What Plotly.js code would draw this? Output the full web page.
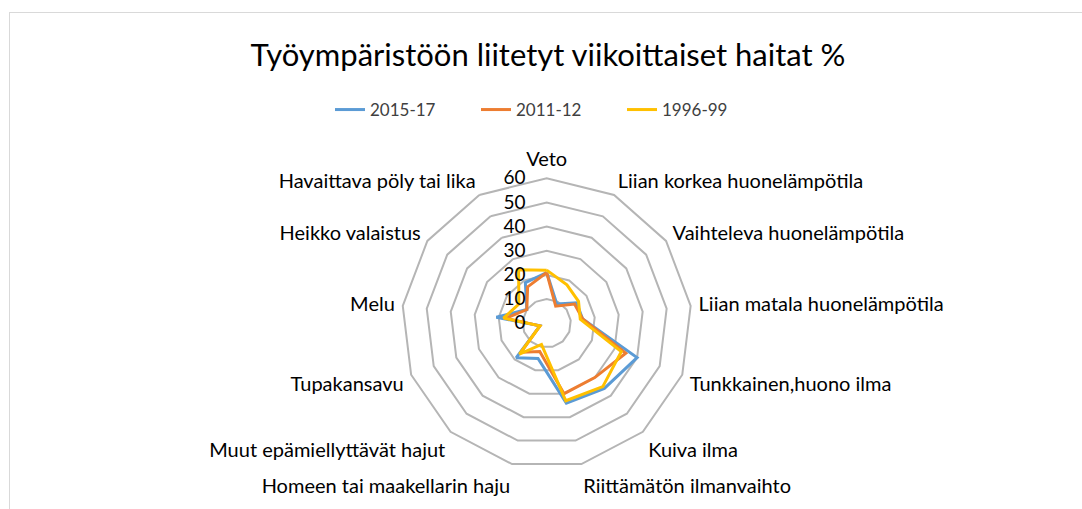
<!DOCTYPE html>
<html>
<head>
<meta charset="utf-8">
<script src="https://cdn.plot.ly/plotly-3.0.1.min.js"></script>
<style>
  html, body { margin: 0; padding: 0; background: #ffffff; overflow: hidden; }
  #chart { width: 1082px; height: 509px; position: absolute; left: 0; top: 0; }
  #frame { position: absolute; left: 9px; top: 12px; width: 1200px; height: 700px;
           border: 1px solid #d9d9d9; pointer-events: none; }
</style>
</head>
<body>
<div id="chart"></div>
<div id="frame"></div>
<script>
const categories = [
  "Veto",
  "Liian korkea huonelämpötila",
  "Vaihteleva huonelämpötila",
  "Liian matala huonelämpötila",
  "Tunkkainen,huono ilma",
  "Kuiva ilma",
  "Riittämätön ilmanvaihto",
  "Homeen tai maakellarin haju",
  "Muut epämiellyttävät hajut",
  "Tupakansavu",
  "Melu",
  "Heikko valaistus",
  "Havaittava pöly tai lika"
];
const seriesNames = ["2015-17", "2011-12", "1996-99"];
const values2015 = [21, 9, 15, 15, 40, 36, 34, 15, 19, 3, 21, 10, 19];
const values2011 = [21, 8, 14, 15, 35, 30, 30, 12, 16, 3, 17, 10, 17];
const values1996 = [22, 18, 16, 14, 33, 35, 33, 9, 17, 3, 18, 14, 25];
const radialTicks = [0, 10, 20, 30, 40, 50, 60];
const colors = ["#5B9BD5", "#ED7D31", "#FFC000"];

function closed(arr) { return arr.concat([arr[0]]); }

const allValues = [values2015, values2011, values1996];
const traces = allValues.map((v, i) => ({
  type: "scatterpolar",
  mode: "lines",
  name: seriesNames[i],
  r: closed(v),
  theta: closed(categories),
  line: { color: colors[i], width: 3, shape: "linear" },
  hoverinfo: "skip"
}));

const W = 1082, H = 509;
const cx = 546.7, cy = 323.3, R = 145;
const FONT = "Lato, 'Liberation Sans', sans-serif";

const layout = {
  width: W, height: H,
  margin: { l: 0, r: 0, t: 0, b: 0 },
  paper_bgcolor: "#ffffff",
  font: { family: FONT, color: "#262626" },
  title: {
    text: "Työympäristöön liitetyt viikoittaiset haitat %",
    font: { family: FONT, size: 31, color: "#000000" },
    x: 548 / W, xanchor: "center", xref: "paper",
    y: 1 - 55 / H, yanchor: "middle", yref: "container"
  },
  showlegend: true,
  legend: {
    orientation: "h",
    x: 330 / W, xanchor: "left",
    y: 1 - 110 / H, yanchor: "middle",
    font: { size: 17, color: "#404040" },
    entrywidth: 101,
    entrywidthmode: "pixels",
    traceorder: "normal"
  },
  polar: {
    domain: { x: [(cx - R) / W, (cx + R) / W], y: [(H - cy - R) / H, (H - cy + R) / H] },
    bgcolor: "#ffffff",
    gridshape: "linear",
    radialaxis: {
      range: [0, 60],
      tickvals: radialTicks,
      ticktext: radialTicks.map(String),
      angle: 90,
      side: "counterclockwise",
      tickangle: 90,
      showline: false,
      ticks: "outside",
      ticklen: 14,
      tickcolor: "rgba(0,0,0,0)",
      showgrid: true,
      gridcolor: "#b5b5b5",
      gridwidth: 2,
      tickfont: { size: 19, color: "#000000" }
    },
    angularaxis: {
      direction: "clockwise",
      rotation: 90,
      showgrid: false,
      showline: true,
      linecolor: "#b5b5b5",
      linewidth: 2,
      ticks: "outside",
      ticklen: 3,
      tickcolor: "rgba(0,0,0,0)",
      tickfont: { size: 20, color: "#000000" }
    }
  }
};

Plotly.newPlot("chart", traces, layout, { staticPlot: true, displayModeBar: false });
</script>
</body>
</html>
